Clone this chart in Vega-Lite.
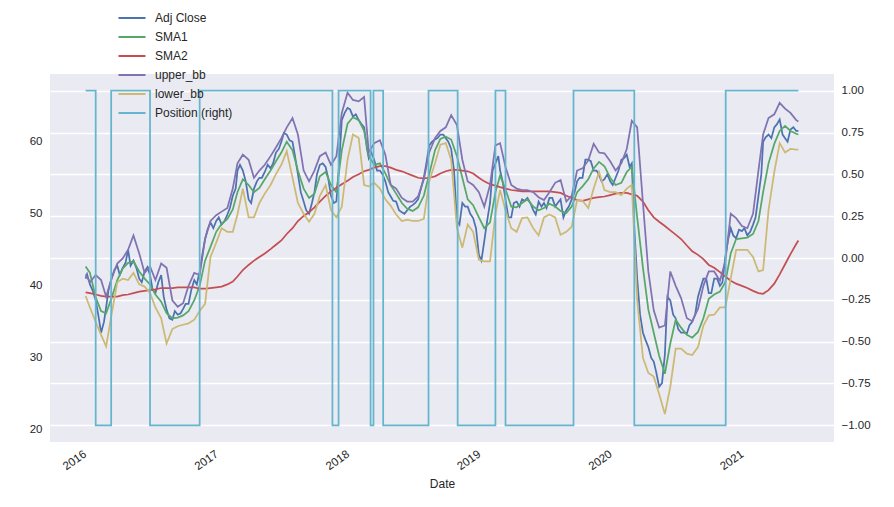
{
  "$schema": "https://vega.github.io/schema/vega-lite/v6.json",
  "width": 784,
  "height": 368,
  "autosize": {"type": "none"},
  "padding": {"left": 50, "top": 74, "right": 60, "bottom": 65},
  "background": "white",
  "datasets": {
    "prices": [
      {"date": "2016-01-04", "Adj Close": 41.0, "SMA1": 42.7, "SMA2": 39.1, "upper_bb": 41.6, "lower_bb": 38.6},
      {"date": "2016-01-16", "Adj Close": 40.2, "SMA1": 41.8, "SMA2": 39.0, "upper_bb": 40.5, "lower_bb": 37.0},
      {"date": "2016-02-01", "Adj Close": 38.0, "SMA1": 38.4, "SMA2": 38.8, "upper_bb": 41.5, "lower_bb": 35.0},
      {"date": "2016-02-16", "Adj Close": 33.5, "SMA1": 36.5, "SMA2": 38.6, "upper_bb": 40.8, "lower_bb": 33.2},
      {"date": "2016-03-01", "Adj Close": 37.0, "SMA1": 36.2, "SMA2": 38.5, "upper_bb": 38.5, "lower_bb": 31.6},
      {"date": "2016-03-16", "Adj Close": 41.0, "SMA1": 38.3, "SMA2": 38.5, "upper_bb": 41.0, "lower_bb": 36.0},
      {"date": "2016-04-01", "Adj Close": 42.8, "SMA1": 40.8, "SMA2": 38.5, "upper_bb": 43.1, "lower_bb": 40.5},
      {"date": "2016-04-16", "Adj Close": 42.5, "SMA1": 42.4, "SMA2": 38.7, "upper_bb": 43.8, "lower_bb": 41.0},
      {"date": "2016-05-01", "Adj Close": 45.0, "SMA1": 43.2, "SMA2": 38.8, "upper_bb": 45.0, "lower_bb": 40.8},
      {"date": "2016-05-16", "Adj Close": 43.5, "SMA1": 43.4, "SMA2": 39.0, "upper_bb": 47.0, "lower_bb": 41.8},
      {"date": "2016-06-01", "Adj Close": 41.0, "SMA1": 42.0, "SMA2": 39.2, "upper_bb": 44.5, "lower_bb": 40.2},
      {"date": "2016-06-16", "Adj Close": 42.0, "SMA1": 41.0, "SMA2": 39.3, "upper_bb": 41.8, "lower_bb": 39.9},
      {"date": "2016-07-01", "Adj Close": 41.5, "SMA1": 40.2, "SMA2": 39.4, "upper_bb": 42.7, "lower_bb": 39.0},
      {"date": "2016-07-16", "Adj Close": 39.0, "SMA1": 38.8, "SMA2": 39.5, "upper_bb": 40.8, "lower_bb": 37.0},
      {"date": "2016-08-01", "Adj Close": 41.5, "SMA1": 37.8, "SMA2": 39.7, "upper_bb": 43.1, "lower_bb": 35.5},
      {"date": "2016-08-16", "Adj Close": 36.7, "SMA1": 36.2, "SMA2": 39.7, "upper_bb": 42.5, "lower_bb": 32.0},
      {"date": "2016-09-01", "Adj Close": 35.3, "SMA1": 35.5, "SMA2": 39.7, "upper_bb": 38.0, "lower_bb": 34.0},
      {"date": "2016-09-16", "Adj Close": 36.0, "SMA1": 35.6, "SMA2": 39.8, "upper_bb": 37.1, "lower_bb": 34.4},
      {"date": "2016-10-01", "Adj Close": 36.8, "SMA1": 35.9, "SMA2": 39.8, "upper_bb": 37.6, "lower_bb": 34.6},
      {"date": "2016-10-16", "Adj Close": 37.5, "SMA1": 36.5, "SMA2": 39.8, "upper_bb": 40.0, "lower_bb": 34.8},
      {"date": "2016-11-01", "Adj Close": 40.8, "SMA1": 38.0, "SMA2": 39.8, "upper_bb": 41.8, "lower_bb": 35.3},
      {"date": "2016-11-16", "Adj Close": 42.0, "SMA1": 40.0, "SMA2": 39.6, "upper_bb": 41.5, "lower_bb": 36.5},
      {"date": "2016-12-01", "Adj Close": 46.5, "SMA1": 43.5, "SMA2": 39.6, "upper_bb": 46.5, "lower_bb": 37.5},
      {"date": "2016-12-16", "Adj Close": 48.8, "SMA1": 45.4, "SMA2": 39.7, "upper_bb": 49.0, "lower_bb": 44.0},
      {"date": "2017-01-01", "Adj Close": 49.0, "SMA1": 47.5, "SMA2": 39.8, "upper_bb": 49.8, "lower_bb": 46.0},
      {"date": "2017-01-16", "Adj Close": 48.5, "SMA1": 48.6, "SMA2": 39.9, "upper_bb": 50.3, "lower_bb": 48.0},
      {"date": "2017-02-01", "Adj Close": 49.9, "SMA1": 49.3, "SMA2": 40.2, "upper_bb": 50.8, "lower_bb": 47.5},
      {"date": "2017-02-16", "Adj Close": 52.5, "SMA1": 50.6, "SMA2": 40.6, "upper_bb": 53.5, "lower_bb": 47.5},
      {"date": "2017-03-01", "Adj Close": 56.0, "SMA1": 53.0, "SMA2": 41.3, "upper_bb": 57.0, "lower_bb": 49.9},
      {"date": "2017-03-16", "Adj Close": 56.0, "SMA1": 54.8, "SMA2": 42.2, "upper_bb": 58.2, "lower_bb": 53.5},
      {"date": "2017-04-01", "Adj Close": 52.0, "SMA1": 54.0, "SMA2": 42.9, "upper_bb": 57.5, "lower_bb": 49.5},
      {"date": "2017-04-16", "Adj Close": 53.5, "SMA1": 53.0, "SMA2": 43.5, "upper_bb": 55.0, "lower_bb": 49.5},
      {"date": "2017-05-01", "Adj Close": 55.0, "SMA1": 53.6, "SMA2": 44.0, "upper_bb": 56.0, "lower_bb": 51.5},
      {"date": "2017-05-16", "Adj Close": 55.8, "SMA1": 54.8, "SMA2": 44.5, "upper_bb": 56.8, "lower_bb": 52.8},
      {"date": "2017-06-01", "Adj Close": 56.3, "SMA1": 56.0, "SMA2": 45.1, "upper_bb": 58.0, "lower_bb": 54.0},
      {"date": "2017-06-16", "Adj Close": 58.5, "SMA1": 57.3, "SMA2": 45.7, "upper_bb": 59.2, "lower_bb": 55.5},
      {"date": "2017-07-01", "Adj Close": 60.0, "SMA1": 58.5, "SMA2": 46.3, "upper_bb": 60.5, "lower_bb": 56.8},
      {"date": "2017-07-16", "Adj Close": 61.0, "SMA1": 60.0, "SMA2": 47.2, "upper_bb": 62.0, "lower_bb": 58.7},
      {"date": "2017-08-01", "Adj Close": 60.0, "SMA1": 58.8, "SMA2": 48.0, "upper_bb": 63.3, "lower_bb": 55.0},
      {"date": "2017-08-16", "Adj Close": 55.5, "SMA1": 56.0, "SMA2": 49.0, "upper_bb": 61.0, "lower_bb": 51.5},
      {"date": "2017-09-01", "Adj Close": 51.7, "SMA1": 53.5, "SMA2": 49.7, "upper_bb": 56.0, "lower_bb": 50.0},
      {"date": "2017-09-16", "Adj Close": 50.0, "SMA1": 52.2, "SMA2": 50.2, "upper_bb": 54.5, "lower_bb": 48.9},
      {"date": "2017-10-01", "Adj Close": 53.0, "SMA1": 52.8, "SMA2": 50.9, "upper_bb": 56.0, "lower_bb": 50.0},
      {"date": "2017-10-16", "Adj Close": 56.8, "SMA1": 55.2, "SMA2": 51.7, "upper_bb": 58.0, "lower_bb": 52.5},
      {"date": "2017-11-01", "Adj Close": 56.5, "SMA1": 55.8, "SMA2": 52.5, "upper_bb": 58.5, "lower_bb": 54.0},
      {"date": "2017-11-16", "Adj Close": 52.5, "SMA1": 54.0, "SMA2": 53.1, "upper_bb": 56.8, "lower_bb": 50.5},
      {"date": "2017-12-01", "Adj Close": 51.7, "SMA1": 53.0, "SMA2": 53.6, "upper_bb": 58.0, "lower_bb": 49.5},
      {"date": "2017-12-16", "Adj Close": 63.0, "SMA1": 58.8, "SMA2": 54.1, "upper_bb": 64.0, "lower_bb": 51.0},
      {"date": "2018-01-01", "Adj Close": 64.7, "SMA1": 62.5, "SMA2": 54.6, "upper_bb": 66.8, "lower_bb": 57.5},
      {"date": "2018-01-16", "Adj Close": 63.5, "SMA1": 63.4, "SMA2": 55.1, "upper_bb": 65.8, "lower_bb": 61.0},
      {"date": "2018-02-01", "Adj Close": 63.0, "SMA1": 63.0, "SMA2": 55.5, "upper_bb": 65.6, "lower_bb": 60.5},
      {"date": "2018-02-16", "Adj Close": 62.0, "SMA1": 61.5, "SMA2": 55.9, "upper_bb": 66.2, "lower_bb": 54.0},
      {"date": "2018-03-01", "Adj Close": 57.7, "SMA1": 58.0, "SMA2": 56.1, "upper_bb": 58.5, "lower_bb": 53.8},
      {"date": "2018-03-16", "Adj Close": 57.5, "SMA1": 56.8, "SMA2": 56.4, "upper_bb": 59.8, "lower_bb": 54.3},
      {"date": "2018-04-01", "Adj Close": 56.0, "SMA1": 57.0, "SMA2": 56.6, "upper_bb": 60.2, "lower_bb": 53.5},
      {"date": "2018-04-16", "Adj Close": 54.5, "SMA1": 55.6, "SMA2": 56.6, "upper_bb": 58.2, "lower_bb": 52.0},
      {"date": "2018-05-01", "Adj Close": 52.4, "SMA1": 54.0, "SMA2": 56.4, "upper_bb": 54.0, "lower_bb": 51.1},
      {"date": "2018-05-16", "Adj Close": 51.7, "SMA1": 52.8, "SMA2": 56.1, "upper_bb": 53.5, "lower_bb": 49.9},
      {"date": "2018-06-01", "Adj Close": 50.2, "SMA1": 51.5, "SMA2": 55.9, "upper_bb": 52.2, "lower_bb": 49.0},
      {"date": "2018-06-16", "Adj Close": 50.5, "SMA1": 50.7, "SMA2": 55.6, "upper_bb": 51.7, "lower_bb": 49.2},
      {"date": "2018-07-01", "Adj Close": 51.2, "SMA1": 50.4, "SMA2": 55.3, "upper_bb": 51.7, "lower_bb": 49.0},
      {"date": "2018-07-16", "Adj Close": 52.0, "SMA1": 50.9, "SMA2": 55.0, "upper_bb": 52.4, "lower_bb": 49.0},
      {"date": "2018-08-01", "Adj Close": 55.0, "SMA1": 52.5, "SMA2": 54.9, "upper_bb": 54.8, "lower_bb": 49.3},
      {"date": "2018-08-16", "Adj Close": 59.5, "SMA1": 55.5, "SMA2": 55.0, "upper_bb": 58.5, "lower_bb": 54.5},
      {"date": "2018-09-01", "Adj Close": 60.3, "SMA1": 58.8, "SMA2": 55.2, "upper_bb": 60.5, "lower_bb": 57.0},
      {"date": "2018-09-16", "Adj Close": 61.0, "SMA1": 60.4, "SMA2": 55.6, "upper_bb": 61.5, "lower_bb": 59.6},
      {"date": "2018-10-01", "Adj Close": 60.5, "SMA1": 60.7, "SMA2": 55.9, "upper_bb": 62.0, "lower_bb": 59.8},
      {"date": "2018-10-16", "Adj Close": 59.0, "SMA1": 60.3, "SMA2": 56.1, "upper_bb": 63.7, "lower_bb": 57.5},
      {"date": "2018-11-01", "Adj Close": 49.0, "SMA1": 58.0, "SMA2": 56.1, "upper_bb": 62.3, "lower_bb": 48.0},
      {"date": "2018-11-16", "Adj Close": 51.5, "SMA1": 55.0, "SMA2": 56.0, "upper_bb": 57.5, "lower_bb": 45.3},
      {"date": "2018-12-01", "Adj Close": 51.0, "SMA1": 52.0, "SMA2": 55.9, "upper_bb": 54.5, "lower_bb": 48.5},
      {"date": "2018-12-16", "Adj Close": 49.4, "SMA1": 51.2, "SMA2": 55.6, "upper_bb": 54.0, "lower_bb": 47.5},
      {"date": "2019-01-01", "Adj Close": 44.3, "SMA1": 49.5, "SMA2": 55.0, "upper_bb": 53.0, "lower_bb": 43.6},
      {"date": "2019-01-16", "Adj Close": 46.2, "SMA1": 48.0, "SMA2": 54.5, "upper_bb": 51.0, "lower_bb": 43.4},
      {"date": "2019-02-01", "Adj Close": 51.5, "SMA1": 48.8, "SMA2": 54.1, "upper_bb": 54.0, "lower_bb": 43.4},
      {"date": "2019-02-16", "Adj Close": 57.0, "SMA1": 53.0, "SMA2": 53.9, "upper_bb": 59.5, "lower_bb": 50.0},
      {"date": "2019-03-01", "Adj Close": 56.0, "SMA1": 55.3, "SMA2": 53.7, "upper_bb": 59.8, "lower_bb": 53.3},
      {"date": "2019-03-16", "Adj Close": 52.0, "SMA1": 53.4, "SMA2": 53.5, "upper_bb": 56.5, "lower_bb": 50.5},
      {"date": "2019-04-01", "Adj Close": 49.5, "SMA1": 51.0, "SMA2": 53.3, "upper_bb": 54.0, "lower_bb": 48.0},
      {"date": "2019-04-16", "Adj Close": 51.7, "SMA1": 50.9, "SMA2": 53.2, "upper_bb": 53.5, "lower_bb": 47.5},
      {"date": "2019-05-01", "Adj Close": 52.0, "SMA1": 51.5, "SMA2": 53.1, "upper_bb": 53.3, "lower_bb": 49.4},
      {"date": "2019-05-16", "Adj Close": 52.2, "SMA1": 52.0, "SMA2": 53.1, "upper_bb": 53.3, "lower_bb": 49.5},
      {"date": "2019-06-01", "Adj Close": 50.5, "SMA1": 51.0, "SMA2": 53.1, "upper_bb": 53.0, "lower_bb": 48.0},
      {"date": "2019-06-16", "Adj Close": 51.7, "SMA1": 50.5, "SMA2": 53.1, "upper_bb": 52.3, "lower_bb": 47.0},
      {"date": "2019-07-01", "Adj Close": 51.5, "SMA1": 50.8, "SMA2": 53.1, "upper_bb": 51.9, "lower_bb": 49.5},
      {"date": "2019-07-16", "Adj Close": 52.2, "SMA1": 51.4, "SMA2": 53.1, "upper_bb": 53.0, "lower_bb": 49.9},
      {"date": "2019-08-01", "Adj Close": 51.0, "SMA1": 51.0, "SMA2": 53.0, "upper_bb": 54.3, "lower_bb": 49.5},
      {"date": "2019-08-16", "Adj Close": 52.0, "SMA1": 50.4, "SMA2": 52.9, "upper_bb": 54.7, "lower_bb": 47.1},
      {"date": "2019-09-01", "Adj Close": 50.5, "SMA1": 50.1, "SMA2": 52.5, "upper_bb": 51.7, "lower_bb": 47.5},
      {"date": "2019-09-16", "Adj Close": 52.0, "SMA1": 51.0, "SMA2": 52.2, "upper_bb": 52.5, "lower_bb": 48.2},
      {"date": "2019-10-01", "Adj Close": 54.5, "SMA1": 53.0, "SMA2": 51.9, "upper_bb": 56.0, "lower_bb": 51.9},
      {"date": "2019-10-16", "Adj Close": 55.0, "SMA1": 53.8, "SMA2": 51.8, "upper_bb": 56.3, "lower_bb": 51.8},
      {"date": "2019-11-01", "Adj Close": 57.5, "SMA1": 54.8, "SMA2": 52.0, "upper_bb": 57.4, "lower_bb": 50.8},
      {"date": "2019-11-16", "Adj Close": 56.0, "SMA1": 56.3, "SMA2": 52.2, "upper_bb": 59.7, "lower_bb": 53.5},
      {"date": "2019-12-01", "Adj Close": 55.4, "SMA1": 57.2, "SMA2": 52.3, "upper_bb": 58.5, "lower_bb": 55.8},
      {"date": "2019-12-16", "Adj Close": 54.8, "SMA1": 56.6, "SMA2": 52.4, "upper_bb": 58.4, "lower_bb": 53.3},
      {"date": "2020-01-01", "Adj Close": 54.5, "SMA1": 55.0, "SMA2": 52.6, "upper_bb": 57.3, "lower_bb": 53.0},
      {"date": "2020-01-16", "Adj Close": 55.0, "SMA1": 54.0, "SMA2": 52.8, "upper_bb": 56.0, "lower_bb": 53.0},
      {"date": "2020-02-01", "Adj Close": 57.5, "SMA1": 54.3, "SMA2": 52.9, "upper_bb": 57.0, "lower_bb": 52.6},
      {"date": "2020-02-16", "Adj Close": 58.2, "SMA1": 55.8, "SMA2": 52.9, "upper_bb": 59.0, "lower_bb": 53.5},
      {"date": "2020-03-01", "Adj Close": 57.0, "SMA1": 56.5, "SMA2": 52.7, "upper_bb": 62.9, "lower_bb": 54.0},
      {"date": "2020-03-16", "Adj Close": 41.0, "SMA1": 49.5, "SMA2": 52.5, "upper_bb": 62.0, "lower_bb": 38.0},
      {"date": "2020-04-01", "Adj Close": 33.5, "SMA1": 42.5, "SMA2": 51.7, "upper_bb": 51.5, "lower_bb": 30.0},
      {"date": "2020-04-16", "Adj Close": 31.5, "SMA1": 36.7, "SMA2": 50.5, "upper_bb": 42.0, "lower_bb": 27.9},
      {"date": "2020-05-01", "Adj Close": 29.5, "SMA1": 33.5, "SMA2": 49.5, "upper_bb": 36.6, "lower_bb": 27.4},
      {"date": "2020-05-16", "Adj Close": 26.0, "SMA1": 30.3, "SMA2": 48.9, "upper_bb": 34.2, "lower_bb": 25.0},
      {"date": "2020-06-01", "Adj Close": 30.5, "SMA1": 27.8, "SMA2": 48.3, "upper_bb": 34.5, "lower_bb": 22.2},
      {"date": "2020-06-16", "Adj Close": 38.0, "SMA1": 32.0, "SMA2": 47.7, "upper_bb": 42.0, "lower_bb": 26.0},
      {"date": "2020-07-01", "Adj Close": 35.5, "SMA1": 35.3, "SMA2": 47.1, "upper_bb": 40.0, "lower_bb": 31.3},
      {"date": "2020-07-16", "Adj Close": 33.5, "SMA1": 34.2, "SMA2": 46.5, "upper_bb": 38.3, "lower_bb": 31.3},
      {"date": "2020-08-01", "Adj Close": 33.4, "SMA1": 33.2, "SMA2": 45.6, "upper_bb": 35.5, "lower_bb": 30.6},
      {"date": "2020-08-16", "Adj Close": 35.0, "SMA1": 32.8, "SMA2": 44.8, "upper_bb": 35.1, "lower_bb": 30.4},
      {"date": "2020-09-01", "Adj Close": 38.5, "SMA1": 33.6, "SMA2": 44.3, "upper_bb": 36.8, "lower_bb": 31.5},
      {"date": "2020-09-16", "Adj Close": 41.0, "SMA1": 35.5, "SMA2": 43.7, "upper_bb": 40.0, "lower_bb": 34.5},
      {"date": "2020-10-01", "Adj Close": 39.0, "SMA1": 38.2, "SMA2": 42.9, "upper_bb": 42.0, "lower_bb": 35.9},
      {"date": "2020-10-16", "Adj Close": 41.0, "SMA1": 38.8, "SMA2": 42.5, "upper_bb": 42.0, "lower_bb": 36.0},
      {"date": "2020-11-01", "Adj Close": 40.0, "SMA1": 39.2, "SMA2": 41.9, "upper_bb": 40.7, "lower_bb": 37.0},
      {"date": "2020-11-16", "Adj Close": 44.0, "SMA1": 40.5, "SMA2": 41.3, "upper_bb": 43.4, "lower_bb": 37.0},
      {"date": "2020-12-01", "Adj Close": 48.0, "SMA1": 44.5, "SMA2": 40.7, "upper_bb": 50.0, "lower_bb": 41.0},
      {"date": "2020-12-16", "Adj Close": 46.6, "SMA1": 46.5, "SMA2": 40.3, "upper_bb": 49.4, "lower_bb": 45.0},
      {"date": "2021-01-01", "Adj Close": 47.6, "SMA1": 46.6, "SMA2": 40.0, "upper_bb": 48.3, "lower_bb": 45.0},
      {"date": "2021-01-16", "Adj Close": 47.0, "SMA1": 46.7, "SMA2": 39.7, "upper_bb": 48.0, "lower_bb": 45.0},
      {"date": "2021-02-01", "Adj Close": 48.5, "SMA1": 47.2, "SMA2": 39.3, "upper_bb": 50.0, "lower_bb": 44.0},
      {"date": "2021-02-16", "Adj Close": 52.5, "SMA1": 49.0, "SMA2": 39.0, "upper_bb": 56.0, "lower_bb": 42.0},
      {"date": "2021-03-01", "Adj Close": 60.0, "SMA1": 53.0, "SMA2": 38.9, "upper_bb": 61.0, "lower_bb": 42.2},
      {"date": "2021-03-16", "Adj Close": 61.0, "SMA1": 57.0, "SMA2": 39.4, "upper_bb": 63.3, "lower_bb": 50.5},
      {"date": "2021-04-01", "Adj Close": 62.0, "SMA1": 59.7, "SMA2": 40.3, "upper_bb": 63.8, "lower_bb": 55.8},
      {"date": "2021-04-16", "Adj Close": 63.1, "SMA1": 61.5, "SMA2": 41.6, "upper_bb": 65.4, "lower_bb": 59.8},
      {"date": "2021-05-01", "Adj Close": 60.5, "SMA1": 62.2, "SMA2": 43.0, "upper_bb": 64.6, "lower_bb": 58.5},
      {"date": "2021-05-16", "Adj Close": 61.7, "SMA1": 61.5, "SMA2": 44.4, "upper_bb": 64.0, "lower_bb": 59.0},
      {"date": "2021-06-01", "Adj Close": 61.5, "SMA1": 61.1, "SMA2": 45.8, "upper_bb": 63.0, "lower_bb": 58.9},
      {"date": "2021-06-07", "Adj Close": 61.5, "SMA1": 61.0, "SMA2": 46.3, "upper_bb": 62.8, "lower_bb": 58.9},
      {"date": "2016-01-08", "Adj Close": 41.6}, {"date": "2016-01-24", "Adj Close": 39.3},
      {"date": "2016-02-08", "Adj Close": 36.0}, {"date": "2016-02-24", "Adj Close": 35.0},
      {"date": "2016-03-08", "Adj Close": 39.5}, {"date": "2016-03-24", "Adj Close": 42.2},
      {"date": "2016-04-08", "Adj Close": 41.5}, {"date": "2016-04-24", "Adj Close": 43.2},
      {"date": "2016-05-08", "Adj Close": 42.8}, {"date": "2016-05-24", "Adj Close": 42.5},
      {"date": "2016-06-08", "Adj Close": 40.5}, {"date": "2016-06-24", "Adj Close": 42.6},
      {"date": "2016-07-08", "Adj Close": 39.5}, {"date": "2016-07-24", "Adj Close": 40.5},
      {"date": "2016-08-08", "Adj Close": 38.5}, {"date": "2016-08-24", "Adj Close": 35.5},
      {"date": "2016-09-08", "Adj Close": 36.5}, {"date": "2016-09-24", "Adj Close": 36.2},
      {"date": "2016-10-08", "Adj Close": 37.5}, {"date": "2016-10-24", "Adj Close": 39.5},
      {"date": "2016-11-08", "Adj Close": 40.2}, {"date": "2016-11-24", "Adj Close": 44.5},
      {"date": "2016-12-08", "Adj Close": 47.8}, {"date": "2016-12-24", "Adj Close": 48.0},
      {"date": "2017-01-08", "Adj Close": 49.5}, {"date": "2017-01-24", "Adj Close": 49.0},
      {"date": "2017-02-08", "Adj Close": 50.8}, {"date": "2017-02-24", "Adj Close": 53.5},
      {"date": "2017-03-08", "Adj Close": 56.8}, {"date": "2017-03-24", "Adj Close": 54.5},
      {"date": "2017-04-08", "Adj Close": 51.5}, {"date": "2017-04-24", "Adj Close": 54.5},
      {"date": "2017-05-08", "Adj Close": 55.0}, {"date": "2017-05-24", "Adj Close": 56.8},
      {"date": "2017-06-08", "Adj Close": 57.0}, {"date": "2017-06-24", "Adj Close": 59.0},
      {"date": "2017-07-08", "Adj Close": 61.2}, {"date": "2017-07-24", "Adj Close": 60.2},
      {"date": "2017-08-08", "Adj Close": 58.0}, {"date": "2017-08-24", "Adj Close": 53.0},
      {"date": "2017-09-08", "Adj Close": 50.5}, {"date": "2017-09-24", "Adj Close": 51.5},
      {"date": "2017-10-08", "Adj Close": 55.5}, {"date": "2017-10-24", "Adj Close": 57.0},
      {"date": "2017-11-08", "Adj Close": 55.0}, {"date": "2017-11-24", "Adj Close": 51.5},
      {"date": "2017-12-08", "Adj Close": 56.5}, {"date": "2017-12-24", "Adj Close": 64.0},
      {"date": "2018-01-08", "Adj Close": 64.5}, {"date": "2018-01-24", "Adj Close": 63.8},
      {"date": "2018-02-08", "Adj Close": 62.5}, {"date": "2018-02-24", "Adj Close": 59.0},
      {"date": "2018-03-08", "Adj Close": 58.5}, {"date": "2018-03-24", "Adj Close": 56.0},
      {"date": "2018-04-08", "Adj Close": 55.5}, {"date": "2018-04-24", "Adj Close": 53.0},
      {"date": "2018-05-08", "Adj Close": 51.8}, {"date": "2018-05-24", "Adj Close": 50.5},
      {"date": "2018-06-08", "Adj Close": 50.0}, {"date": "2018-06-24", "Adj Close": 51.0},
      {"date": "2018-07-08", "Adj Close": 51.5}, {"date": "2018-07-24", "Adj Close": 53.5},
      {"date": "2018-08-08", "Adj Close": 57.0}, {"date": "2018-08-24", "Adj Close": 60.0},
      {"date": "2018-09-08", "Adj Close": 60.5}, {"date": "2018-09-24", "Adj Close": 61.0},
      {"date": "2018-10-08", "Adj Close": 60.0}, {"date": "2018-10-24", "Adj Close": 56.0},
      {"date": "2018-11-08", "Adj Close": 48.5}, {"date": "2018-11-24", "Adj Close": 51.0},
      {"date": "2018-12-08", "Adj Close": 50.0}, {"date": "2018-12-24", "Adj Close": 48.0},
      {"date": "2019-01-08", "Adj Close": 43.5}, {"date": "2019-01-24", "Adj Close": 49.0},
      {"date": "2019-02-08", "Adj Close": 56.0}, {"date": "2019-02-24", "Adj Close": 58.0},
      {"date": "2019-03-08", "Adj Close": 54.5}, {"date": "2019-03-24", "Adj Close": 49.5},
      {"date": "2019-04-08", "Adj Close": 51.5}, {"date": "2019-04-24", "Adj Close": 51.0},
      {"date": "2019-05-08", "Adj Close": 51.8}, {"date": "2019-05-24", "Adj Close": 51.5},
      {"date": "2019-06-08", "Adj Close": 49.9}, {"date": "2019-06-24", "Adj Close": 51.0},
      {"date": "2019-07-08", "Adj Close": 50.8}, {"date": "2019-07-24", "Adj Close": 52.2},
      {"date": "2019-08-08", "Adj Close": 51.5}, {"date": "2019-08-24", "Adj Close": 49.5},
      {"date": "2019-09-08", "Adj Close": 51.0}, {"date": "2019-09-24", "Adj Close": 53.0},
      {"date": "2019-10-08", "Adj Close": 55.0}, {"date": "2019-10-24", "Adj Close": 57.5},
      {"date": "2019-11-08", "Adj Close": 57.3}, {"date": "2019-11-24", "Adj Close": 56.0},
      {"date": "2019-12-08", "Adj Close": 54.5}, {"date": "2019-12-24", "Adj Close": 55.5},
      {"date": "2020-01-08", "Adj Close": 54.0}, {"date": "2020-01-24", "Adj Close": 56.0},
      {"date": "2020-02-08", "Adj Close": 57.7}, {"date": "2020-02-24", "Adj Close": 56.5},
      {"date": "2020-03-08", "Adj Close": 48.0}, {"date": "2020-03-24", "Adj Close": 36.0},
      {"date": "2020-04-08", "Adj Close": 32.5}, {"date": "2020-04-24", "Adj Close": 30.0},
      {"date": "2020-05-08", "Adj Close": 28.0}, {"date": "2020-05-24", "Adj Close": 26.5},
      {"date": "2020-06-08", "Adj Close": 38.5}, {"date": "2020-06-24", "Adj Close": 36.0},
      {"date": "2020-07-08", "Adj Close": 34.0}, {"date": "2020-07-24", "Adj Close": 33.5},
      {"date": "2020-08-08", "Adj Close": 34.5}, {"date": "2020-08-24", "Adj Close": 36.0},
      {"date": "2020-09-08", "Adj Close": 39.7}, {"date": "2020-09-24", "Adj Close": 41.0},
      {"date": "2020-10-08", "Adj Close": 39.0}, {"date": "2020-10-24", "Adj Close": 41.0},
      {"date": "2020-11-08", "Adj Close": 40.5}, {"date": "2020-11-24", "Adj Close": 46.5},
      {"date": "2020-12-08", "Adj Close": 47.0}, {"date": "2020-12-24", "Adj Close": 47.8},
      {"date": "2021-01-08", "Adj Close": 48.0}, {"date": "2021-01-24", "Adj Close": 47.5},
      {"date": "2021-02-08", "Adj Close": 49.5}, {"date": "2021-02-24", "Adj Close": 55.5},
      {"date": "2021-03-08", "Adj Close": 60.6}, {"date": "2021-03-24", "Adj Close": 60.5},
      {"date": "2021-04-08", "Adj Close": 62.4}, {"date": "2021-04-24", "Adj Close": 61.0},
      {"date": "2021-05-08", "Adj Close": 60.0}, {"date": "2021-05-24", "Adj Close": 62.0}
    ],
    "position": [
      {"date": "2016-01-04", "Position": 1},
      {"date": "2016-02-01", "Position": -1},
      {"date": "2016-03-15", "Position": 1},
      {"date": "2016-07-01", "Position": -1},
      {"date": "2016-11-16", "Position": 1},
      {"date": "2017-11-20", "Position": -1},
      {"date": "2017-12-07", "Position": 1},
      {"date": "2018-03-06", "Position": -1},
      {"date": "2018-03-14", "Position": 1},
      {"date": "2018-04-10", "Position": -1},
      {"date": "2018-08-14", "Position": 1},
      {"date": "2018-11-03", "Position": -1},
      {"date": "2019-02-16", "Position": 1},
      {"date": "2019-03-16", "Position": -1},
      {"date": "2019-09-21", "Position": 1},
      {"date": "2020-03-08", "Position": -1},
      {"date": "2020-11-17", "Position": 1},
      {"date": "2021-06-07", "Position": 1}
    ]
  },
  "layer": [
    {
      "data": {"name": "prices"},
      "transform": [
        {"fold": ["Adj Close", "SMA1", "SMA2", "upper_bb", "lower_bb"], "as": ["series", "value"]},
        {"filter": "isValid(datum.value)"}
      ],
      "mark": {"type": "line", "strokeWidth": 1.75},
      "encoding": {
        "x": {
          "field": "date",
          "type": "temporal",
          "title": "Date",
          "scale": {"domain": [{"year": 2015, "month": 9, "date": 27}, {"year": 2021, "month": 9, "date": 14}]},
          "axis": {
            "values": [
              {"year": 2016, "month": 1, "date": 1},
              {"year": 2017, "month": 1, "date": 1},
              {"year": 2018, "month": 1, "date": 1},
              {"year": 2019, "month": 1, "date": 1},
              {"year": 2020, "month": 1, "date": 1},
              {"year": 2021, "month": 1, "date": 1}
            ],
            "format": "%Y",
            "labelAngle": -35,
            "labelAlign": "right",
            "labelBaseline": "top",
            "labelPadding": 6,
            "labelOffset": -3,
            "grid": false,
            "titlePadding": 6
          }
        },
        "y": {
          "field": "value",
          "type": "quantitative",
          "scale": {"domain": [18.33, 69.4], "nice": false, "zero": false},
          "axis": {"values": [20, 30, 40, 50, 60], "grid": false, "title": null, "labelPadding": 8}
        },
        "color": {
          "field": "series",
          "type": "nominal",
          "scale": {
            "domain": ["Adj Close", "SMA1", "SMA2", "upper_bb", "lower_bb", "Position (right)"],
            "range": ["#4C72B0", "#55A868", "#C44E52", "#8172B2", "#CCB974", "#64B5CD"]
          },
          "legend": {
            "orient": "none",
            "legendX": 71,
            "legendY": -67,
            "title": null,
            "padding": 0,
            "symbolType": "M-1.35,0H1.35",
            "symbolSize": 400,
            "symbolStrokeWidth": 2,
            "labelFontSize": 12,
            "labelColor": "#262626",
            "labelOffset": 12,
            "rowPadding": 2
          }
        }
      }
    },
    {
      "data": {"name": "position"},
      "mark": {"type": "line", "interpolate": "step-after", "strokeWidth": 1.75},
      "encoding": {
        "x": {"field": "date", "type": "temporal"},
        "y": {
          "field": "Position",
          "type": "quantitative",
          "scale": {"domain": [-1.1, 1.1], "nice": false, "zero": false},
          "axis": {
            "orient": "right",
            "values": [-1, -0.75, -0.5, -0.25, 0, 0.25, 0.5, 0.75, 1],
            "format": ".2f",
            "grid": true,
            "gridColor": "white",
            "gridWidth": 1.3,
            "title": null,
            "labelPadding": 7
          }
        },
        "color": {"datum": "Position (right)"}
      }
    }
  ],
  "resolve": {"scale": {"y": "independent"}},
  "config": {
    "font": "Liberation Sans",
    "view": {"fill": "#EAEAF2", "stroke": null},
    "axis": {
      "domain": false,
      "ticks": false,
      "labelColor": "#262626",
      "labelFontSize": 11.5,
      "titleColor": "#262626",
      "titleFontSize": 12,
      "titleFontWeight": "normal"
    }
  }
}
